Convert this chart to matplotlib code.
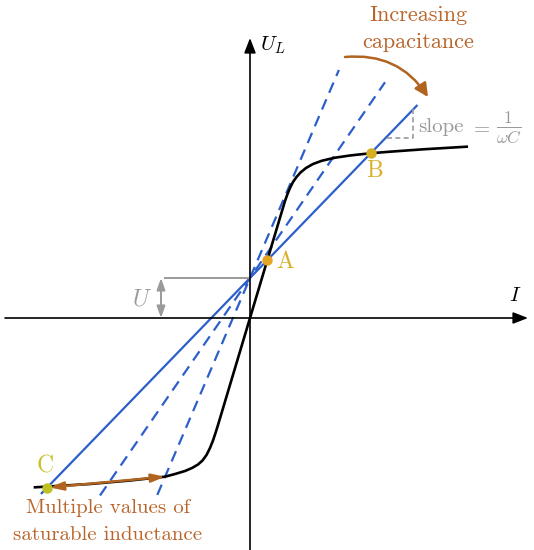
import matplotlib
matplotlib.use("Agg")
import matplotlib.pyplot as plt
from matplotlib.patches import FancyArrowPatch
import numpy as np

plt.rcParams['mathtext.fontset'] = 'cm'

# Saturation characteristic U_L(I) (units, origin at axes crossing)
curve_x = [-215, -160, -120, -85, -75, -65, -58, -52, -47.5, -43.5, -40, -37, -34.5, -32, 0,
           35, 37.5, 40, 43, 46.5, 50.5, 56, 63, 72, 85, 100, 120, 140, 173.3, 216.7]
curve_y = [-169.3, -166, -162.5, -158.7, -156, -153, -150, -146.5, -142.5, -137, -130, -122.5, -115, -107, 0,
           117, 124, 130, 136, 141, 145.5, 150, 154, 157.3, 160.3, 162.5, 164.7, 166.3, 168.7, 171.3]

# Capacitor load lines: U + I/(wC)
U = 40
solid_slope = 1.033
solid_x = [-208.3, 166.7]
dashed_slopes = [2.34, 1.45]
dashed_x = [[-92.7, 88.9], [-150, 135]]

# Operating points
pt_names = ["A", "B", "C"]
pt_x = [17.3, 121, -203]
pt_colors = ["#e6a520", "#d6b021", "#bfc021"]
label_colors = ["#d9b02a", "#d9b02a", "#c9c02a"]
label_pos = [(35, 56), (125, 147), (-205, -148)]

fig = plt.figure(figsize=(5.34, 5.5), dpi=100)
ax = fig.add_axes([0, 0, 1, 1])
ax.set_xlim(-250, 284)
ax.set_ylim(-232, 318)
ax.axis('off')

blue = '#2c5fc9'
brown = '#b0641f'
txt_brown = '#b8652b'
gray = '#9a9a9a'

# axes arrows
ax.annotate('', xy=(278, 0), xytext=(-245, 0),
            arrowprops=dict(arrowstyle='-|>,head_length=0.9,head_width=0.35', lw=1.2, color='black',
                            shrinkA=0, shrinkB=0))
ax.annotate('', xy=(0, 280), xytext=(0, -232),
            arrowprops=dict(arrowstyle='-|>,head_length=0.9,head_width=0.35', lw=1.2, color='black',
                            shrinkA=0, shrinkB=0))
ax.text(10, 273, r'$U_L$', fontsize=15, ha='left', va='center')
ax.text(265, 23, r'$I$', fontsize=15, ha='center', va='center')

# dashed load lines
for s, xr in zip(dashed_slopes, dashed_x):
    xs = np.array(xr)
    ax.plot(xs, U + s * xs, color=blue, lw=1.6, dashes=(5, 3.2))

# solid load line
xs = np.array(solid_x)
ax.plot(xs, U + solid_slope * xs, color=blue, lw=1.6)

# saturation curve
ax.plot(curve_x, curve_y, color='black', lw=1.9, solid_joinstyle='round')

# U marker
ax.plot([-85, 0], [U, U], color=gray, lw=1.4)
ax.annotate('', xy=(-89, 0), xytext=(-89, U),
            arrowprops=dict(arrowstyle='<|-|>,head_length=0.7,head_width=0.25', lw=1.4, color=gray,
                            shrinkA=0, shrinkB=0))
ax.text(-108, 19, r'$U$', fontsize=17, color=gray, ha='center', va='center')

# slope triangle
tx0, tx1 = 137, 163.3
ax.plot([tx0, tx1, tx1], [180, 180, U + solid_slope * tx1], color=gray, lw=1.2, ls=(0, (3, 2)))
ax.text(168, 191, 'slope', fontsize=15, color=gray, ha='left', va='center', family='cmr10')
ax.text(220, 191, r'$=$', fontsize=15, color=gray, ha='left', va='center')
ax.text(246, 191, r'$\frac{1}{\omega C}$', fontsize=18, color=gray, ha='left', va='center')

# operating points
for n, x, c, lc, (lx, ly) in zip(pt_names, pt_x, pt_colors, label_colors, label_pos):
    ax.plot([x], [U + solid_slope * x], 'o', color=c, ms=6.5, zorder=5)
    ax.text(lx, ly, n, fontsize=17, color=lc, ha='center', va='center', family='cmr10')

# increasing capacitance arrow
arr = FancyArrowPatch((95, 261), (178, 221), connectionstyle='arc3,rad=-0.3',
                      arrowstyle='-|>,head_length=8,head_width=4', color=brown, lw=1.8,
                      shrinkA=0, shrinkB=0)
ax.add_patch(arr)
ax.text(168, 303, 'Increasing', fontsize=16, color=txt_brown, ha='center', va='center', family='cmr10')
ax.text(168, 276, 'capacitance', fontsize=16, color=txt_brown, ha='center', va='center', family='cmr10')

# multiple values arrow
cx = pt_x[2]
ax.annotate('', xy=(-85, -158.7), xytext=(cx, U + solid_slope * cx),
            arrowprops=dict(arrowstyle='<|-|>,head_length=0.8,head_width=0.25', lw=1.8, color=brown,
                            shrinkA=2, shrinkB=0))
ax.text(-142, -190, 'Multiple values of', fontsize=15, color=txt_brown, ha='center', va='center', family='cmr10')
ax.text(-142, -217, 'saturable inductance', fontsize=15, color=txt_brown, ha='center', va='center', family='cmr10')

fig.savefig('out.png', dpi=100)
